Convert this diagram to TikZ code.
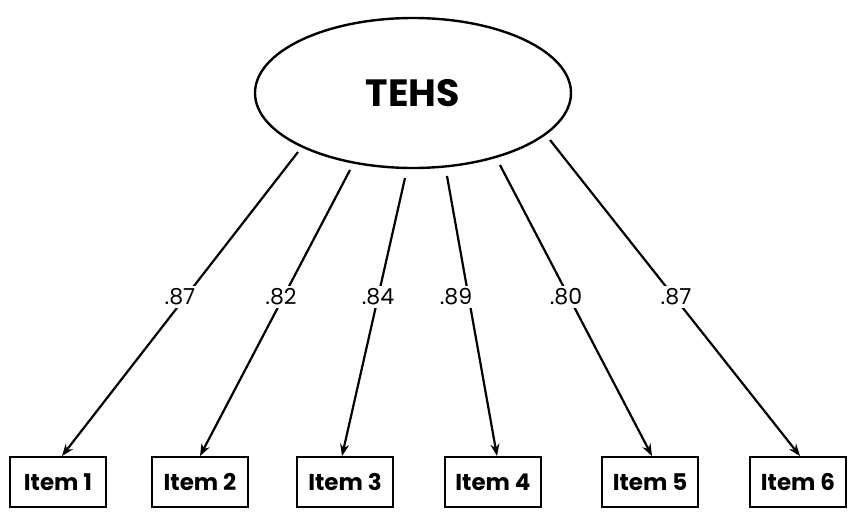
\documentclass[tikz,border=0pt]{standalone}
\usepackage{fontspec}
\setmainfont{Poppins}
\usetikzlibrary{shapes.geometric,arrows.meta}
\begin{document}
\begin{tikzpicture}[x=1pt,y=-1pt,
  item/.style={draw,line width=2.4pt,minimum width=96pt,minimum height=50pt,inner sep=2pt,font=\fontsize{23}{26}\selectfont\bfseries},
  load/.style={fill=white,inner sep=3pt,font=\fontsize{22}{25}\selectfont},
  arr/.style={line width=2.2pt,-{Stealth[length=12pt,width=9pt]}}]
\useasboundingbox (0,0) rectangle (855,515);
\node[ellipse,draw,line width=2.4pt,minimum width=316pt,minimum height=150pt,font=\fontsize{38}{42}\selectfont\bfseries] (e) at (413,93) {TEHS};
\node[item] (i1) at (58,482) {Item 1};
\node[item] (i2) at (200,482) {Item 2};
\node[item] (i3) at (345,482) {Item 3};
\node[item] (i4) at (493,482) {Item 4};
\node[item] (i5) at (650,482) {Item 5};
\node[item] (i6) at (798,482) {Item 6};
\coordinate (s1) at (298,152);
\coordinate (s2) at (350,170);
\coordinate (s3) at (405,178);
\coordinate (s4) at (447,176);
\coordinate (s5) at (500,165);
\coordinate (s6) at (550,140);
\coordinate (t1) at (62,456);
\coordinate (t2) at (200,456);
\coordinate (t3) at (342,456);
\coordinate (t4) at (497,456);
\coordinate (t5) at (652,456);
\coordinate (t6) at (800,456);
\foreach \k in {1,...,6}{\draw[arr] (s\k) -- (t\k);}
\node[load] (l1) at (180,297) {.87};
\node[load] (l2) at (281,297) {.82};
\node[load] (l3) at (378,297) {.84};
\node[load] (l4) at (456,297) {.89};
\node[load] (l5) at (566,297) {.80};
\node[load] (l6) at (676,297) {.87};
\end{tikzpicture}
\end{document}
